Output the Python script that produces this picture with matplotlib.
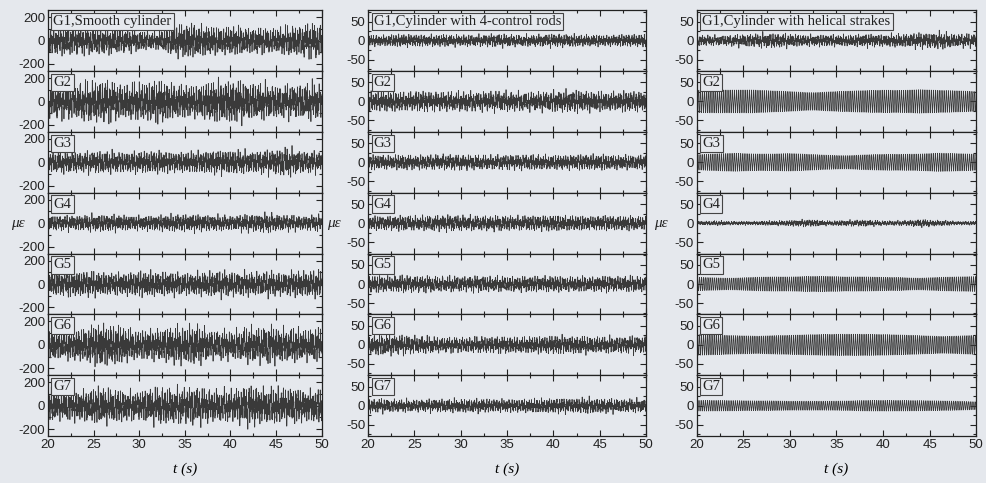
import numpy as np
import matplotlib
matplotlib.use("Agg")
import matplotlib.pyplot as plt
from matplotlib.ticker import MultipleLocator

# ---- data ----
env_times = [20, 22, 24, 26, 28, 30, 32, 34, 36, 38, 40, 42, 44, 46, 48, 50]
gauges = ["G1", "G2", "G3", "G4", "G5", "G6", "G7"]
case_titles = ["Smooth cylinder", "Cylinder with 4-control rods", "Cylinder with helical strakes"]

# typical peak strain envelopes (micro-strain) per gauge, smooth cylinder
smooth_env = [
    [95, 100, 90, 100, 85, 70, 60, 110, 120, 95, 100, 90, 85, 95, 110, 120],
    [110, 120, 130, 150, 120, 130, 150, 120, 110, 140, 150, 130, 120, 110, 120, 130],
    [70, 75, 70, 80, 70, 75, 80, 70, 75, 80, 85, 75, 80, 100, 75, 70],
    [55, 50, 55, 60, 55, 50, 55, 60, 60, 55, 50, 60, 65, 55, 50, 55],
    [80, 85, 90, 80, 75, 90, 85, 80, 75, 90, 85, 80, 85, 80, 90, 95],
    [110, 100, 120, 150, 130, 100, 110, 130, 140, 100, 100, 120, 130, 120, 110, 120],
    [110, 100, 110, 130, 110, 100, 130, 120, 130, 110, 110, 140, 120, 130, 110, 120],
]
rods_env = [
    [12, 12, 14, 12, 13, 12, 12, 14, 12, 12, 14, 13, 12, 12, 13, 14],
    [20, 22, 20, 22, 20, 21, 20, 22, 20, 20, 22, 24, 22, 20, 22, 22],
    [16, 15, 16, 15, 16, 16, 15, 15, 16, 16, 15, 16, 17, 16, 15, 16],
    [15, 15, 16, 15, 17, 16, 15, 16, 15, 16, 17, 16, 15, 16, 15, 15],
    [18, 17, 18, 17, 16, 16, 17, 16, 16, 17, 17, 16, 16, 17, 16, 17],
    [20, 22, 20, 18, 16, 16, 17, 18, 17, 18, 20, 19, 18, 17, 18, 18],
    [15, 14, 13, 13, 14, 14, 15, 14, 14, 15, 16, 16, 17, 15, 14, 14],
]
strakes_env = [
    [12, 10, 12, 14, 16, 14, 12, 13, 12, 14, 13, 14, 16, 18, 14, 14],
    [30, 30, 30, 31, 30, 30, 29, 30, 30, 30, 30, 29, 31, 30, 30, 30],
    [22, 23, 24, 22, 22, 24, 23, 22, 22, 23, 23, 22, 22, 24, 23, 22],
    [4, 5, 4, 4, 5, 6, 8, 5, 6, 7, 5, 5, 8, 6, 4, 4],
    [20, 20, 19, 20, 20, 19, 20, 20, 19, 20, 20, 21, 19, 20, 20, 20],
    [28, 28, 28, 29, 29, 28, 28, 28, 28, 28, 28, 28, 28, 28, 28, 28],
    [14, 14, 14, 14, 15, 15, 14, 13, 13, 14, 14, 14, 14, 14, 14, 13],
]
# True where the response is a regular (locked-in) oscillation
strakes_regular = [False, True, True, False, True, True, True]

xticks = [20, 25, 30, 35, 40, 45, 50]
yticks_list = [[-200, 0, 200], [-50, 0, 50], [-50, 0, 50]]
ylims = [(-260, 260), (-80, 80), (-80, 80)]

# ---- drawing ----
BG = "#e5e8ed"
plt.rcParams["font.family"] = ["Liberation Sans", "DejaVu Sans"]
plt.rcParams["axes.unicode_minus"] = False
fig = plt.figure(figsize=(9.87, 4.83), dpi=100, facecolor=BG)

col_x = [(0.0486, 0.326), (0.373, 0.6545), (0.706, 0.989)]
ylabel_x = [0.018, 0.338, 0.670]
top, bottom = 0.979, 0.097
h = (top - bottom) / 7

t = np.arange(20, 50.0001, 0.004)


def carrier(tt, k, regular):
    if regular:
        c = np.sin(2 * np.pi * 4.35 * tt + 0.7 * k) + 0.12 * np.sin(2 * np.pi * 13.1 * tt + k)
        return c / np.max(np.abs(c))
    c = (np.sin(2 * np.pi * 3.7 * tt + 0.9 * k)
         + 0.7 * np.sin(2 * np.pi * 9.13 * tt + 1.3 * k)
         + 0.55 * np.sin(2 * np.pi * 17.3 * tt + 2.1 * k)
         + 0.45 * np.sin(2 * np.pi * 23.9 * tt + 0.4 * k)
         + 0.35 * np.sin(2 * np.pi * 1.37 * tt + 0.5 * k)
         + 0.3 * np.sin(2 * np.pi * 31.7 * tt + 1.7 * k))
    return c / (1.9 * np.std(c))


all_env = [smooth_env, rods_env, strakes_env]
for ci in range(3):
    x0, x1 = col_x[ci]
    for gi in range(7):
        ax = fig.add_axes([x0, top - (gi + 1) * h, x1 - x0, h])
        ax.set_facecolor(BG)
        env = np.interp(t, env_times, all_env[ci][gi])
        regular = (ci == 2 and strakes_regular[gi])
        y = env * carrier(t, ci * 7 + gi, regular)
        ax.plot(t, y, color="#3a3a3a", lw=0.55)
        ax.set_xlim(20, 50)
        ax.set_ylim(*ylims[ci])
        ax.set_xticks(xticks)
        ax.xaxis.set_minor_locator(MultipleLocator(2.5))
        ax.set_yticks(yticks_list[ci])
        ax.yaxis.set_minor_locator(MultipleLocator(yticks_list[ci][2] / 2))
        ax.tick_params(which="both", direction="in", top=True, right=True,
                       labelsize=9.5, colors="#222222", pad=2)
        ax.tick_params(which="major", length=4, width=0.8)
        ax.tick_params(which="minor", length=2, width=0.8)
        for s in ax.spines.values():
            s.set_linewidth(0.9)
            s.set_color("#222222")
        if gi < 6:
            ax.tick_params(labelbottom=False)
        else:
            ax.set_xlabel("t (s)", fontsize=11, family="Liberation Serif",
                          style="italic", labelpad=8)
        label = gauges[gi] + ("," + case_titles[ci] if gi == 0 else "")
        ax.text(0.02, 0.92, label, transform=ax.transAxes, va="top", ha="left",
                fontsize=10.5, family="Liberation Serif", color="#222222",
                bbox=dict(boxstyle="square,pad=0.15", fc=BG, ec="#444444", lw=0.8))
    fig.text(ylabel_x[ci], top - 3.5 * h, "με", fontsize=11, family="Liberation Serif",
             style="italic", ha="center", va="center", color="#222222")

fig.savefig("out.png", dpi=100, facecolor=BG)
